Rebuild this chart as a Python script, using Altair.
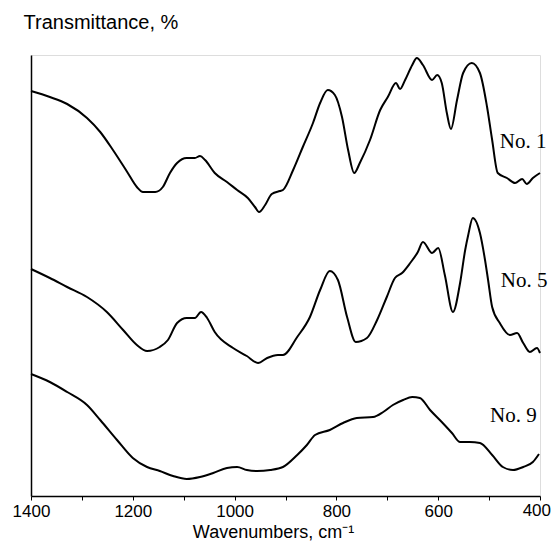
import altair as alt
import pandas as pd

# ---- data (wavenumber, cm-1 ; relative transmittance, arbitrary units) ----
wn1 = [1400, 1363, 1329, 1290, 1264, 1239, 1211, 1192, 1180, 1156, 1141, 1127, 1113, 1094, 1078,
       1068, 1058, 1039, 1015, 995, 974, 960, 952, 940, 927, 911, 905, 885, 866, 846, 832, 817,
       803, 789, 777, 765, 754, 734, 714, 699, 683, 675, 665, 651, 642, 630, 612, 602, 593, 583,
       575, 563, 551, 534, 518, 504, 494, 483, 465, 449, 435, 426, 414, 400]
t1 = [405, 399, 392, 378, 364, 346, 324, 309, 304, 304, 309, 323, 333, 338, 338,
      340, 336, 323, 314, 306, 298, 289, 284, 291, 302, 305, 306, 326, 349, 373, 393, 406,
      401, 379, 346, 323, 333, 356, 386, 399, 413, 407, 416, 431, 438, 431, 416, 421, 413, 383,
      367, 396, 423, 433, 423, 389, 356, 323, 318, 313, 317, 312, 318, 323]

wn5 = [1400, 1363, 1329, 1290, 1251, 1219, 1192, 1172, 1147, 1131, 1113, 1094, 1078, 1066, 1054,
       1039, 1003, 976, 954, 936, 915, 905, 877, 852, 832, 813, 797, 779, 762, 740, 720, 701,
       685, 671, 655, 640, 630, 612, 600, 587, 571, 557, 547, 541, 532, 518, 508, 502, 494,
       479, 459, 445, 433, 420, 406, 400]
t5 = [227, 218, 209, 199, 184, 166, 151, 145, 149, 156, 173, 178, 178, 184, 178,
      164, 148, 140, 133, 138, 141, 141, 159, 179, 206, 225, 216, 179, 154, 158, 176, 199,
      218, 223, 233, 244, 254, 243, 248, 221, 184, 213, 246, 261, 278, 263, 236, 216, 189,
      173, 161, 163, 153, 144, 148, 143]

wn9 = [1400, 1363, 1329, 1290, 1264, 1231, 1200, 1172, 1147, 1121, 1094, 1068, 1042, 1015, 995,
       976, 956, 930, 905, 877, 858, 842, 813, 787, 760, 728, 708, 689, 669, 651, 636, 616,
       593, 573, 557, 538, 518, 494, 473, 453, 433, 414, 402]
t9 = [122, 114, 104, 91, 76, 56, 38, 29, 25, 20, 17, 19, 23, 28, 29,
      26, 25, 26, 29, 41, 51, 61, 66, 73, 78, 79, 84, 91, 96, 99, 98, 86,
      74, 63, 54, 54, 53, 41, 29, 26, 29, 34, 42]

series_names = ["No. 1", "No. 5", "No. 9"]
label_wn = [479, 477, 498]
label_t = [348, 209, 74]

tick_values = [1400, 1300, 1200, 1100, 1000, 900, 800, 700, 600, 500, 400]
edge_label_value = [400]

rows = []
for name, ws, ts in zip(series_names, [wn1, wn5, wn9], [t1, t5, t9]):
    for w, t in zip(ws, ts):
        rows.append({"series": name, "wn": w, "t": t})
df = pd.DataFrame(rows)
lab = pd.DataFrame({"series": series_names, "wn": label_wn, "t": label_t})
edge = pd.DataFrame({"wn": edge_label_value, "txt": [str(v) for v in edge_label_value]})

xscale = alt.Scale(domain=[400, 1400], reverse=True, nice=False, zero=False)
yscale = alt.Scale(domain=[0, 441], nice=False, zero=False)

xaxis = alt.Axis(
    values=tick_values,
    format="d",
    labelExpr="(datum.value % 200 == 0 && datum.value != 400) ? datum.label : ''",
    labelFont="Liberation Sans", labelFontSize=17, labelColor="black",
    labelPadding=3, labelFlush=False, labelOverlap=False,
    tickSize=4, tickColor="black", tickWidth=1,
    domainColor="black", domainWidth=1.5, grid=False,
    title="Wavenumbers, cm\u207b\u00b9",
    titleFont="Liberation Sans", titleFontSize=18, titleFontWeight="normal",
    titleColor="black", titleX=242, titleY=41, titleAlign="center",
    titleBaseline="alphabetic",
)
yaxis = alt.Axis(
    labels=False, ticks=False, grid=False,
    domainColor="black", domainWidth=1.5,
    title="Transmittance, %",
    titleFont="Liberation Sans", titleFontSize=20, titleFontWeight="normal",
    titleColor="black", titleAngle=0, titleAlign="left", titleBaseline="alphabetic",
    titleX=-8, titleY=-27,
)

lines = alt.Chart(df).mark_line(color="black", strokeWidth=2, interpolate="monotone").encode(
    x=alt.X("wn:Q", scale=xscale, axis=xaxis),
    y=alt.Y("t:Q", scale=yscale, axis=yaxis),
    detail="series:N",
    order="wn:Q",
)

texts = alt.Chart(lab).mark_text(
    align="left", baseline="alphabetic", font="Liberation Serif", fontSize=21, color="black"
).encode(
    x=alt.X("wn:Q", scale=xscale),
    y=alt.Y("t:Q", scale=yscale),
    text="series:N",
)

# last tick label, kept flush with the chart edge so it is not clipped
edge_text = alt.Chart(edge).mark_text(
    align="right", baseline="top", font="Liberation Sans", fontSize=17, color="black", dx=11
).encode(
    x=alt.X("wn:Q", scale=xscale),
    y=alt.value(448),
    text="txt:N",
)

chart = (lines + texts + edge_text).properties(
    width=509, height=441,
    autosize=alt.AutoSizeParams(type="none"),
    padding={"left": 23, "top": 47, "right": 11, "bottom": 47},
).configure_view(stroke=None).configure(background="white")

chart.save("out.html", embed_options={"renderer": "svg", "actions": False})
